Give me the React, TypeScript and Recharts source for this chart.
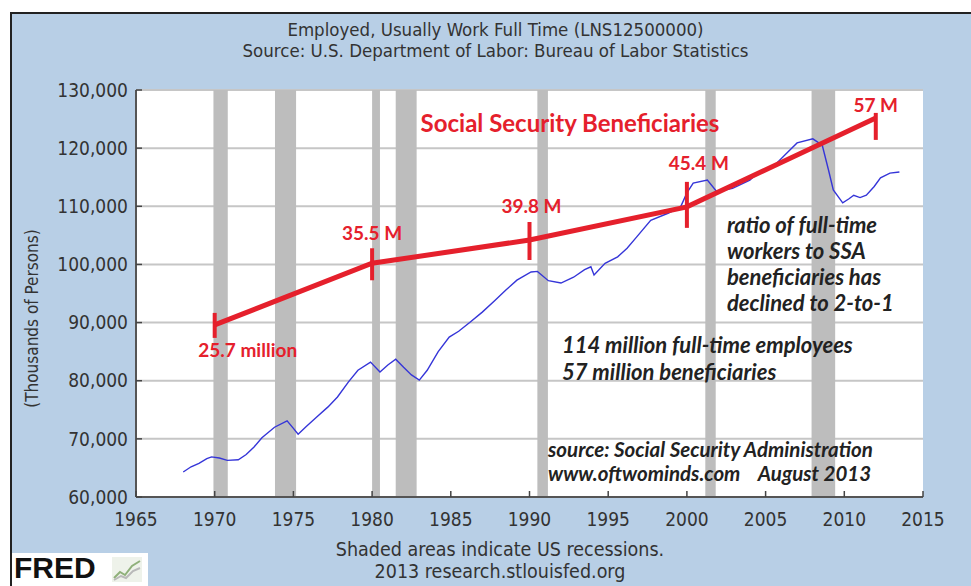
import React from 'react';
import { CartesianGrid, LabelList, Line, LineChart, ReferenceArea, XAxis, YAxis } from 'recharts';

// Full-time employed, thousands
const FT_YEARS = [
  1968.0, 1968.5, 1969.0, 1969.5, 1969.8, 1970.3, 1970.8, 1971.5, 1972.0, 1972.5,
  1973.0, 1973.8, 1974.6, 1975.0, 1975.3, 1975.8, 1976.5, 1977.2, 1977.8, 1978.5,
  1979.1, 1979.9, 1980.5, 1981.0, 1981.5, 1982.0, 1982.5, 1983.0, 1983.5, 1984.2,
  1984.9, 1985.5, 1986.2, 1987.0, 1987.8, 1988.5, 1989.2, 1990.1, 1990.5, 1991.2,
  1992.0, 1992.8, 1993.5, 1993.9, 1994.1, 1994.8, 1995.6, 1996.2, 1996.8, 1997.7,
  1998.8, 1999.6, 2000.0, 2000.4, 2001.3, 2001.9, 2002.9, 2004.0, 2004.2, 2005.0,
  2005.7, 2006.4, 2007.0, 2008.0, 2008.6, 2009.0, 2009.3, 2009.9, 2010.3, 2010.6,
  2011.0, 2011.4, 2011.9, 2012.3, 2012.9, 2013.5,
];
const FT_EMPLOYED = [
  64300, 65200, 65800, 66600, 66900, 66700, 66300, 66400, 67300, 68600,
  70200, 72000, 73100, 71800, 70800, 72100, 73800, 75500, 77200, 79800,
  81800, 83200, 81500, 82700, 83700, 82300, 81000, 80100, 81800, 85000,
  87500, 88500, 90000, 91800, 93800, 95600, 97300, 98700, 98800, 97200,
  96800, 97800, 99100, 99600, 98200, 100200, 101300, 102800, 104700, 107600,
  108800, 109900, 112300, 114000, 114500, 112500, 113100, 114500, 115000, 116200,
  117400, 119300, 120900, 121600, 120500, 116200, 112800, 110600, 111300, 111900,
  111500, 111900, 113400, 114900, 115700, 115900,
];

// Social Security beneficiaries overlay (drawn on the left scale)
const SSA_YEARS = [1970, 1980, 1990, 2000, 2012];
const SSA_LEVEL = [89600, 100200, 104200, 109900, 125200];
const SSA_LABELS = ['25.7 million', '35.5 M', '39.8 M', '45.4 M', '57 M'];

const RECESSION_START = [1969.92, 1973.83, 1980.0, 1981.5, 1990.5, 2001.17, 2007.92];
const RECESSION_END = [1970.83, 1975.17, 1980.5, 1982.83, 1991.17, 2001.83, 2009.42];

const X_TICKS = [1965, 1970, 1975, 1980, 1985, 1990, 1995, 2000, 2005, 2010, 2015];
const Y_TICKS = [60000, 70000, 80000, 90000, 100000, 110000, 120000, 130000];
const RIGHT_TICKS = [90000, 100000, 110000, 120000];
const RIGHT_LABELS = ['25 M', '35 M', '45 M', '55 M'];

const ftData = FT_YEARS.map((year, i) => ({ year, value: FT_EMPLOYED[i] }));
const ssaData = SSA_YEARS.map((year, i) => ({ year, value: SSA_LEVEL[i], label: SSA_LABELS[i] }));

const BG = '#b8cfe6';
const RED = '#e5202c';
const AXIS_FONT = '"DejaVu Sans Condensed", "DejaVu Sans", sans-serif';
const NOTE_FONT = 'Lato, "Open Sans", sans-serif';

// label placement around each SSA point, and the vertical marker extents
const LABEL_DX = [33, 0, 2, 12, 0];
const LABEL_DY = [25, -30, -34, -44, -13];
const MARK_UP = [12, 15, 18, 25, 5];
const MARK_DOWN = [13, 17, 20, 21, 22];

const XTick = ({ x, y, payload }: any) => (
  <g>
    <line x1={x} x2={x} y1={y} y2={y - 6} stroke="#444" strokeWidth={1.5} />
    <text x={x} y={y + 29} textAnchor="middle" fontSize={19} fill="#333" fontFamily={AXIS_FONT}>
      {payload.value}
    </text>
  </g>
);

const YTick = ({ x, y, payload }: any) => (
  <g>
    <line x1={x} x2={x + 6} y1={y} y2={y} stroke="#444" strokeWidth={1.5} />
    <text x={x - 8} y={y} dy="0.35em" textAnchor="end" fontSize={19} fill="#333" fontFamily={AXIS_FONT}>
      {payload.value.toLocaleString('en-US')}
    </text>
  </g>
);

const RightTick = ({ x, y, payload }: any) => (
  <text x={x + 6} y={y} dy="0.35em" fontSize={19} fill="#333" fontFamily={AXIS_FONT}>
    {RIGHT_LABELS[RIGHT_TICKS.indexOf(payload.value)]}
  </text>
);

const SsaMark = (p: any) => (
  <line
    key={p.index}
    x1={p.cx}
    x2={p.cx}
    y1={p.cy - MARK_UP[p.index]}
    y2={p.cy + MARK_DOWN[p.index]}
    stroke={RED}
    strokeWidth={4}
  />
);

const SsaLabel = (p: any) => (
  <text
    x={p.x + LABEL_DX[p.index]}
    y={p.y + LABEL_DY[p.index]}
    dy="0.35em"
    textAnchor="middle"
    fontSize={19}
    fontWeight={700}
    fill={RED}
    fontFamily={NOTE_FONT}
  >
    {p.value}
  </text>
);

const note: React.CSSProperties = {
  position: 'absolute',
  fontFamily: NOTE_FONT,
  fontStyle: 'italic',
  fontWeight: 700,
  color: '#222',
  whiteSpace: 'nowrap',
};

export default function App() {
  return (
    <div
      style={{
        position: 'absolute',
        left: 0,
        top: 0,
        width: 971,
        height: 586,
        background: '#fff',
        overflow: 'hidden',
      }}
    >
      <div
        style={{
          position: 'absolute',
          left: 10,
          top: 12,
          right: 0,
          bottom: 0,
          background: BG,
          borderLeft: '2px solid #222',
          borderTop: '2px solid #222',
        }}
      />
      <div
        style={{
          position: 'absolute',
          left: 0,
          right: 0,
          top: 19,
          textAlign: 'center',
          fontFamily: AXIS_FONT,
          fontSize: 18.5,
          lineHeight: '21px',
          color: '#333',
          paddingLeft: 20,
        }}
      >
        <div>Employed, Usually Work Full Time (LNS12500000)</div>
        <div>Source: U.S. Department of Labor: Bureau of Labor Statistics</div>
      </div>

      <div style={{ position: 'absolute', left: 0, top: 0 }}>
        <LineChart width={971} height={586} margin={{ top: 90, right: 0, bottom: 59, left: 56 }}>
          <CartesianGrid vertical={false} stroke="#c6c6c6" strokeWidth={2} fill="#ffffff" />
          {RECESSION_START.map((s, i) => (
            <ReferenceArea
              key={s}
              x1={s}
              x2={RECESSION_END[i]}
              fill="#bdbdbd"
              fillOpacity={1}
              stroke="none"
            />
          ))}
          <XAxis
            dataKey="year"
            type="number"
            domain={[1965, 2015]}
            ticks={X_TICKS}
            allowDataOverflow
            height={30}
            tickSize={0}
            tickMargin={0}
            tick={<XTick />}
            axisLine={{ stroke: '#555', strokeWidth: 2 }}
          />
          <YAxis
            type="number"
            domain={[60000, 130000]}
            ticks={Y_TICKS}
            width={80}
            tickSize={0}
            tickMargin={0}
            tick={<YTick />}
            axisLine={{ stroke: '#555', strokeWidth: 2 }}
            label={{
              value: '(Thousands of Persons)',
              angle: -90,
              position: 'insideLeft',
              offset: -24,
              dy: 25,
              style: { fontFamily: AXIS_FONT, fontSize: 17, fill: '#333', textAnchor: 'middle' },
            }}
          />
          <YAxis
            yAxisId="r"
            orientation="right"
            type="number"
            domain={[60000, 130000]}
            ticks={RIGHT_TICKS}
            width={48}
            axisLine={false}
            tickLine={false}
            tickSize={0}
            tickMargin={0}
            tick={<RightTick />}
          />
          <Line
            data={ftData}
            dataKey="value"
            stroke="#3535d8"
            strokeWidth={1.4}
            dot={false}
            isAnimationActive={false}
          />
          <Line
            data={ssaData}
            dataKey="value"
            stroke={RED}
            strokeWidth={5}
            dot={SsaMark}
            activeDot={false}
            isAnimationActive={false}
          >
            <LabelList dataKey="label" content={SsaLabel} />
          </Line>
        </LineChart>
      </div>

      <div
        style={{
          ...note,
          fontStyle: 'normal',
          color: RED,
          fontSize: 24,
          lineHeight: '30px',
          left: 570,
          top: 108,
          transform: 'translateX(-50%)',
        }}
      >
        Social Security Beneficiaries
      </div>
      <div style={{ ...note, left: 727, top: 212, fontSize: 22, lineHeight: '26px' }}>
        ratio of full-time
        <br />
        workers to SSA
        <br />
        beneficiaries has
        <br />
        declined to 2-to-1
      </div>
      <div style={{ ...note, left: 562, top: 331, fontSize: 22, lineHeight: '27px' }}>
        114 million full-time employees
        <br />
        57 million beneficiaries
      </div>
      <div style={{ ...note, left: 548, top: 437, fontSize: 20.5, lineHeight: '24px' }}>
        source: Social Security Administration
        <br />
        www.oftwominds.com&nbsp;&nbsp;&nbsp;&nbsp;August 2013
      </div>

      <div
        style={{
          position: 'absolute',
          left: 0,
          right: 0,
          top: 539,
          textAlign: 'center',
          fontFamily: AXIS_FONT,
          fontSize: 19.5,
          lineHeight: '22px',
          color: '#333',
          paddingLeft: 29,
        }}
      >
        <div>Shaded areas indicate US recessions.</div>
        <div>2013 research.stlouisfed.org</div>
      </div>

      <svg width={140} height={38} style={{ position: 'absolute', left: 12, top: 548 }}>
        <rect x={0} y={5} width={136} height={33} fill="#ffffff" />
        <text
          x={2}
          y={30}
          fontFamily='"Liberation Sans", Arial, sans-serif'
          fontWeight={900}
          fontSize={30}
          fill="#111"
        >
          FRED
        </text>
        <rect x={100} y={9} width={30} height={25} fill="#eef2ea" />
        <polyline points="102,30 108,24 113,27 120,18 128,13" fill="none" stroke="#8fb07a" strokeWidth={2} />
        <polyline points="102,32 109,28 114,30 121,23 128,20" fill="none" stroke="#b9b9b9" strokeWidth={2} />
      </svg>
    </div>
  );
}
